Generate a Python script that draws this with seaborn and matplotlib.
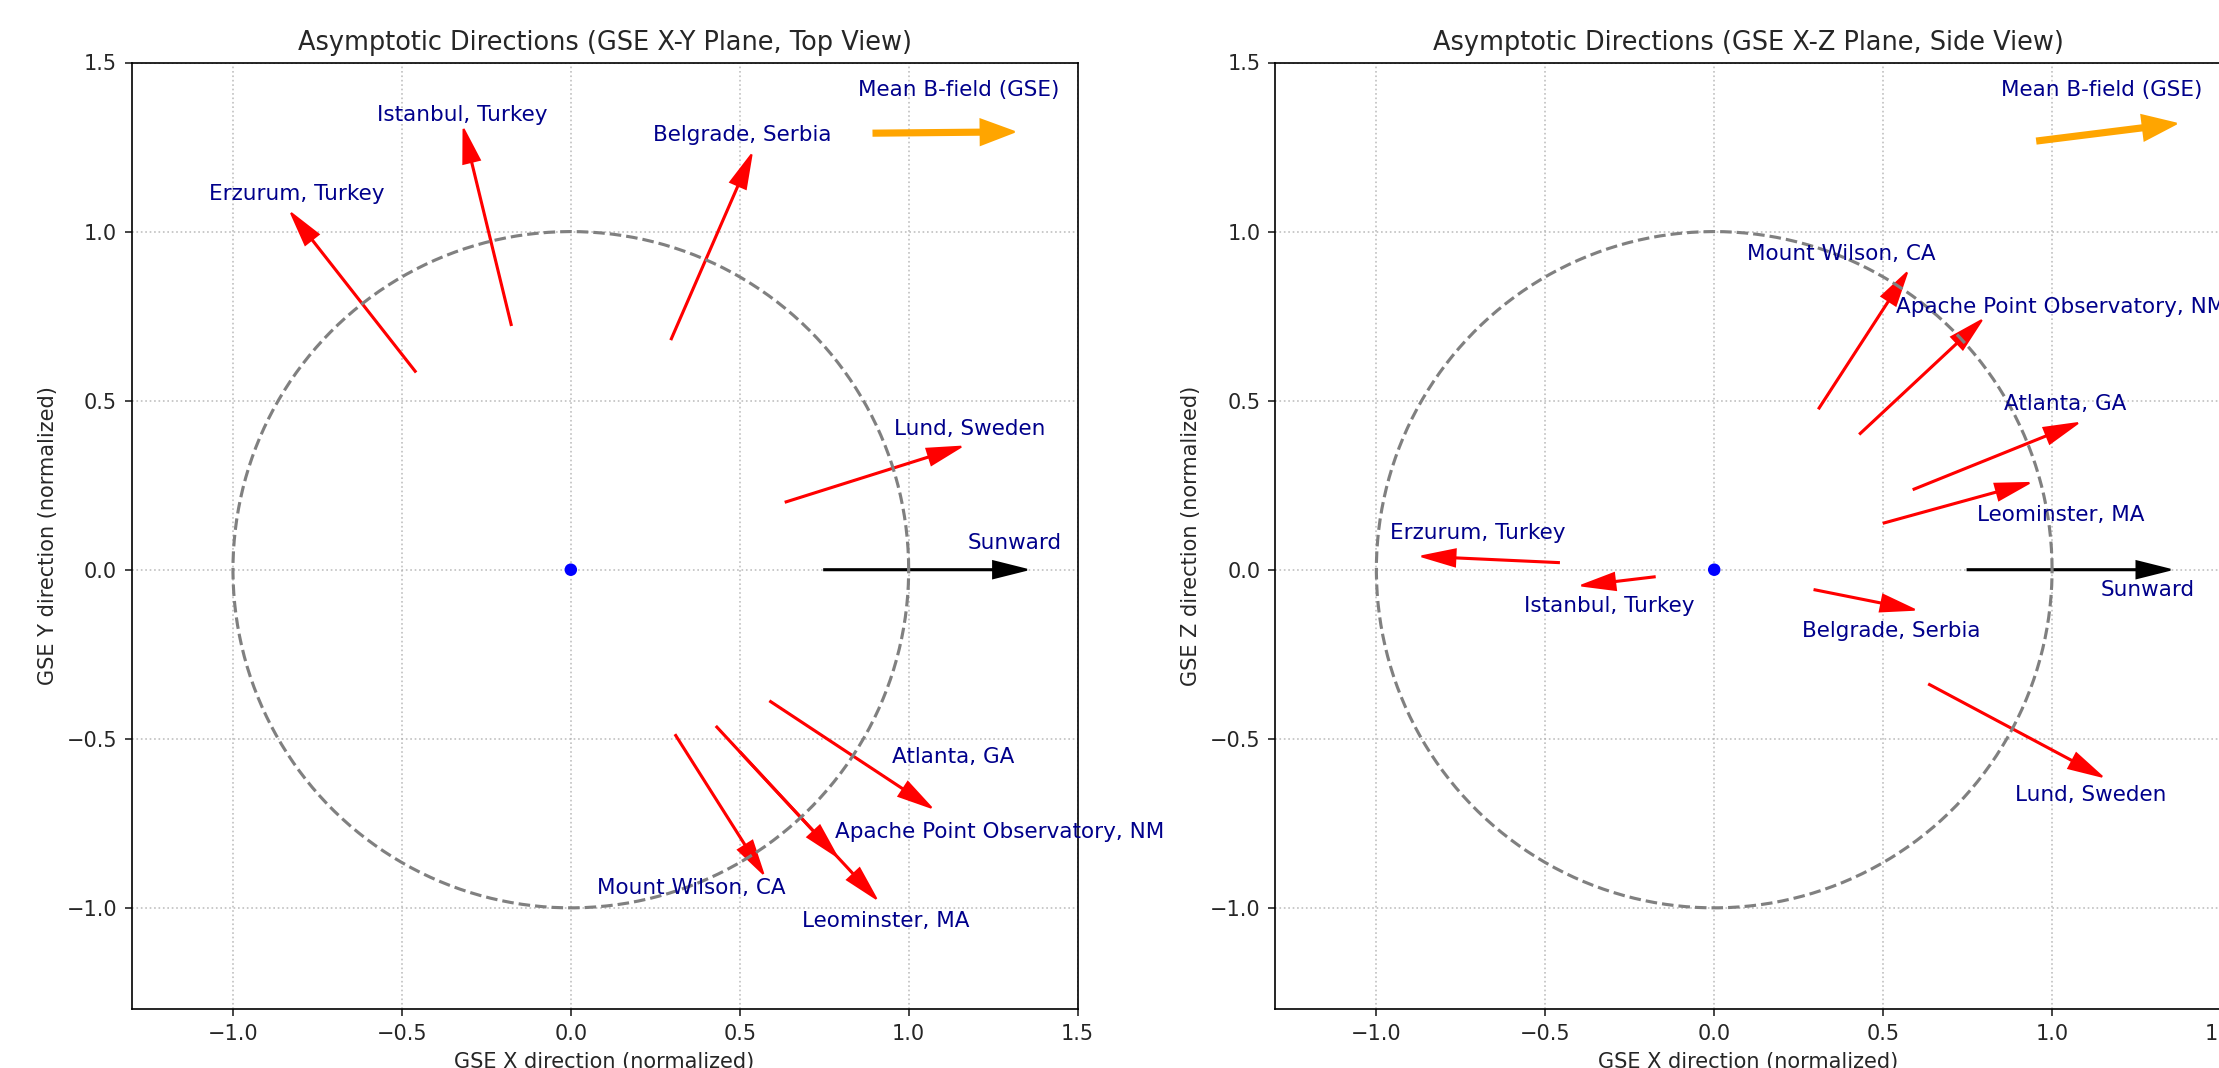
import numpy as np
import matplotlib
matplotlib.use("Agg")
import matplotlib.pyplot as plt
import seaborn as sns

# ---- data ----
stations = ["Erzurum, Turkey", "Istanbul, Turkey", "Belgrade, Serbia", "Lund, Sweden",
            "Atlanta, GA", "Apache Point Observatory, NM", "Mount Wilson, CA", "Leominster, MA"]
dir_x = [-0.613, -0.235, 0.396, 0.848, 0.787, 0.575, 0.413, 0.669]
dir_y = [0.781, 0.965, 0.909, 0.267, -0.519, -0.619, -0.652, -0.720]
dir_z = [0.028, -0.028, -0.079, -0.452, 0.317, 0.536, 0.636, 0.184]

label_xy = [(-0.812, 1.111), (-0.32, 1.345), (0.508, 1.287), (1.182, 0.416),
            (1.132, -0.554), (1.268, -0.776), (0.358, -0.94), (0.933, -1.04)]
label_xz = [(-0.699, 0.109), (-0.31, -0.108), (0.524, -0.181), (1.115, -0.667),
            (1.038, 0.49), (1.024, 0.777), (0.377, 0.935), (1.027, 0.161)]

sun_dir = [1.0, 0.0, 0.0]
sun_label_xy = (1.313, 0.078)
sun_label_xz = (1.284, -0.061)

bfield_tail_xy = (0.896, 1.291)
bfield_vec_xy = (0.317, 0.003)
bfield_tail_xz = (0.956, 1.268)
bfield_vec_xz = (0.313, 0.039)
bfield_label = (1.147, 1.42)

tick_vals = [-1.0, -0.5, 0.0, 0.5, 1.0, 1.5]

# ---- figure ----
W, H, DPI = 2219, 1068, 150
fig = plt.figure(figsize=(W / DPI, H / DPI), dpi=DPI)
sns.set_style("white")
plt.rcParams['font.family'] = ['DejaVu Sans']

ax_w = 946 / W
ax_h = 946.8 / H
bottom = (H - 1009.3) / H
ax1 = fig.add_axes([131.6 / W, bottom, ax_w, ax_h])
ax2 = fig.add_axes([1275.0 / W, bottom, ax_w, ax_h])

theta = np.linspace(0, 2 * np.pi, 400)
TAIL, LEN = 0.75, 0.5
LFS = 10.3


def draw(ax, comp2, labels, sun_label, btail, bvec, title, ylabel):
    sns.lineplot(x=np.cos(theta), y=np.sin(theta), sort=False, estimator=None,
                 errorbar=None, ax=ax, color='gray', linestyle='--', linewidth=1.5)
    sns.scatterplot(x=[0], y=[0], ax=ax, color='blue', s=36, edgecolor='none', zorder=5)
    for name, vx, v2, (lx, ly) in zip(stations, dir_x, comp2, labels):
        ax.arrow(TAIL * vx, TAIL * v2, LEN * vx, LEN * v2, width=0.003,
                 head_width=0.05, head_length=0.1, fc='red', ec='red')
        ax.text(lx, ly, name, ha='center', va='center', color='darkblue', fontsize=LFS)
    ax.arrow(TAIL * sun_dir[0], 0, LEN * sun_dir[0], 0, width=0.003,
             head_width=0.05, head_length=0.1, fc='black', ec='black')
    ax.text(sun_label[0], sun_label[1], 'Sunward', ha='center', va='center',
            color='darkblue', fontsize=LFS)
    ax.arrow(btail[0], btail[1], bvec[0], bvec[1], width=0.015,
             head_width=0.075, head_length=0.1, fc='orange', ec='orange')
    ax.text(bfield_label[0], bfield_label[1], 'Mean B-field (GSE)', ha='center',
            va='center', color='darkblue', fontsize=LFS)
    ax.set_xlim(-1.3, 1.5)
    ax.set_ylim(-1.3, 1.5)
    ax.set_xticks(tick_vals)
    ax.set_yticks(tick_vals)
    ax.tick_params(direction='out', length=3.5, width=0.8, labelsize=10,
                   bottom=True, left=True)
    for sp in ax.spines.values():
        sp.set_visible(True)
        sp.set_color('black')
        sp.set_linewidth(0.8)
    ax.grid(True, linestyle=':', color='#b0b0b0', linewidth=0.8, alpha=0.8)
    ax.set_title(title, fontsize=12.3)
    ax.set_xlabel('GSE X direction (normalized)', fontsize=10)
    ax.set_ylabel(ylabel, fontsize=10)


draw(ax1, dir_y, label_xy, sun_label_xy, bfield_tail_xy, bfield_vec_xy,
     'Asymptotic Directions (GSE X-Y Plane, Top View)', 'GSE Y direction (normalized)')
draw(ax2, dir_z, label_xz, sun_label_xz, bfield_tail_xz, bfield_vec_xz,
     'Asymptotic Directions (GSE X-Z Plane, Side View)', 'GSE Z direction (normalized)')

fig.savefig('out.png', dpi=DPI)
